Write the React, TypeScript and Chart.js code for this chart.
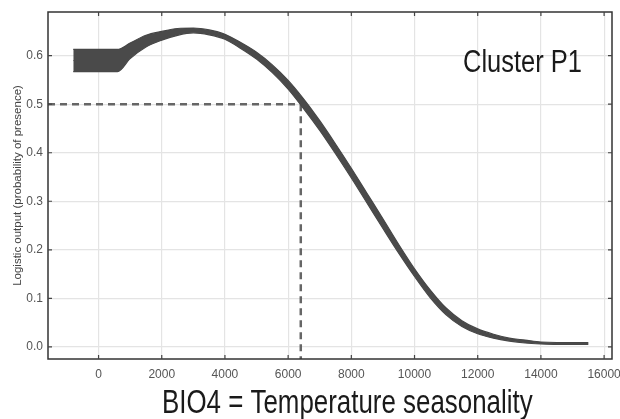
import React, { useEffect, useRef } from "react";
import { Chart, registerables } from "chart.js";

Chart.register(...registerables);

const xValues = [-800, 600, 1000, 1500, 2000, 2500, 3000, 3500, 4000, 4500, 5000, 5500, 6000, 6500, 7000, 7500, 8000, 8500, 9000, 9500, 10000, 10500, 11000, 11500, 12000, 12500, 13000, 13500, 14000, 14500, 15000, 15500];
const meanValues = [0.590, 0.590, 0.610, 0.630, 0.641, 0.649, 0.652, 0.648, 0.639, 0.621, 0.600, 0.573, 0.540, 0.500, 0.456, 0.408, 0.358, 0.306, 0.254, 0.202, 0.153, 0.109, 0.073, 0.048, 0.032, 0.022, 0.015, 0.011, 0.008, 0.007, 0.007, 0.007];
const upperValues = [0.613, 0.613, 0.626, 0.642, 0.650, 0.656, 0.657, 0.653, 0.644, 0.627, 0.607, 0.581, 0.549, 0.510, 0.466, 0.418, 0.368, 0.316, 0.264, 0.211, 0.161, 0.117, 0.080, 0.054, 0.037, 0.026, 0.018, 0.014, 0.010, 0.009, 0.009, 0.009];
const lowerValues = [0.567, 0.567, 0.594, 0.618, 0.632, 0.642, 0.647, 0.643, 0.634, 0.615, 0.593, 0.565, 0.531, 0.490, 0.446, 0.398, 0.348, 0.296, 0.244, 0.193, 0.145, 0.101, 0.066, 0.042, 0.027, 0.018, 0.012, 0.008, 0.006, 0.005, 0.005, 0.005];

const thresholdY = 0.5;
const thresholdX = 6400;

const xTicks = [0, 2000, 4000, 6000, 8000, 10000, 12000, 14000, 16000];
const yTicks = [0, 0.1, 0.2, 0.3, 0.4, 0.5, 0.6];

const X_MIN = -1600;
const X_MAX = 16250;
const Y_MIN = -0.025;
const Y_MAX = 0.69;

const yTitle = "Logistic output (probability of presence)";
const xTitle = "BIO4 = Temperature seasonality";
const clusterLabel = "Cluster P1";

const FONT = "'Liberation Sans', Arial, sans-serif";

const decorPlugin = {
  id: "decor",
  afterDraw(chart: any) {
    const { ctx, chartArea } = chart;
    const xs = chart.scales.x;
    const ys = chart.scales.y;
    ctx.save();
    ctx.strokeStyle = "#333";
    ctx.lineWidth = 1.5;
    ctx.strokeRect(chartArea.left, chartArea.top, chartArea.right - chartArea.left, chartArea.bottom - chartArea.top);
    ctx.lineWidth = 1.2;
    ctx.strokeStyle = "#444";
    const t = 4;
    xs.ticks.forEach((tk: any) => {
      const px = xs.getPixelForValue(tk.value);
      ctx.beginPath();
      ctx.moveTo(px, chartArea.bottom);
      ctx.lineTo(px, chartArea.bottom - t);
      ctx.moveTo(px, chartArea.top);
      ctx.lineTo(px, chartArea.top + t);
      ctx.stroke();
    });
    ys.ticks.forEach((tk: any) => {
      const py = ys.getPixelForValue(tk.value);
      ctx.beginPath();
      ctx.moveTo(chartArea.left, py);
      ctx.lineTo(chartArea.left + t, py);
      ctx.moveTo(chartArea.right, py);
      ctx.lineTo(chartArea.right - t, py);
      ctx.stroke();
    });
    ctx.fillStyle = "#1a1a1a";
    ctx.textAlign = "left";
    ctx.textBaseline = "alphabetic";
    ctx.font = `25.5px ${FONT}`;
    ctx.save();
    ctx.translate(463, 72);
    ctx.scale(1, 1.2);
    ctx.fillText(clusterLabel, 0, 0);
    ctx.restore();
    ctx.font = `25.9px ${FONT}`;
    ctx.save();
    ctx.translate(162, 413);
    ctx.scale(1, 1.3);
    ctx.fillText(xTitle, 0, 0);
    ctx.restore();
    ctx.restore();
  },
};

export default function App() {
  const ref = useRef<HTMLCanvasElement | null>(null);
  useEffect(() => {
    if (!ref.current) return;
    const pts = (ys: number[]) => xValues.map((x, i) => ({ x, y: ys[i] }));
    const chart = new Chart(ref.current, {
      type: "line",
      data: {
        datasets: [
          {
            label: "upper",
            data: pts(upperValues),
            borderColor: "#464646",
            borderWidth: 1.2,
            backgroundColor: "#4a4a4a",
            fill: "+1",
            pointRadius: 0,
            cubicInterpolationMode: "monotone",
          },
          {
            label: "lower",
            data: pts(lowerValues),
            borderColor: "#464646",
            borderWidth: 1.2,
            backgroundColor: "#4a4a4a",
            fill: false,
            pointRadius: 0,
            cubicInterpolationMode: "monotone",
          },
          {
            label: "mean",
            data: pts(meanValues),
            borderColor: "#727272",
            borderWidth: 1,
            fill: false,
            pointRadius: 0,
            cubicInterpolationMode: "monotone",
          },
          {
            label: "hline",
            data: [
              { x: X_MIN, y: thresholdY },
              { x: thresholdX, y: thresholdY },
            ],
            borderColor: "#666",
            borderWidth: 2.5,
            borderDash: [7, 5],
            fill: false,
            pointRadius: 0,
          },
          {
            label: "vline",
            data: [
              { x: thresholdX, y: thresholdY },
              { x: thresholdX, y: Y_MIN },
            ],
            borderColor: "#666",
            borderWidth: 2.5,
            borderDash: [7, 5],
            fill: false,
            pointRadius: 0,
          },
        ],
      },
      options: {
        animation: false,
        responsive: false,
        maintainAspectRatio: false,
        layout: { padding: { left: 11, top: 12, right: 8, bottom: 0 } },
        plugins: { legend: { display: false }, tooltip: { enabled: false } },
        scales: {
          x: {
            type: "linear",
            min: X_MIN,
            max: X_MAX,
            afterBuildTicks: (s: any) => {
              s.ticks = xTicks.map((v) => ({ value: v }));
            },
            afterFit: (s: any) => {
              s.height = 60;
              s.paddingLeft = 0;
              s.paddingRight = 0;
            },
            ticks: {
              autoSkip: false,
              maxRotation: 0,
              padding: 8,
              color: "#555",
              font: { family: FONT, size: 12 },
              callback: (v: any) => String(v),
            },
            grid: { color: "#e4e4e4", lineWidth: 1.2, drawTicks: false },
            border: { display: false },
          },
          y: {
            type: "linear",
            min: Y_MIN,
            max: Y_MAX,
            afterBuildTicks: (s: any) => {
              s.ticks = yTicks.map((v) => ({ value: v }));
            },
            afterFit: (s: any) => {
              s.width = 37;
              s.paddingTop = 0;
              s.paddingBottom = 0;
            },
            ticks: {
              padding: 5,
              color: "#555",
              font: { family: FONT, size: 12 },
              callback: (v: any) => Number(v).toFixed(1),
            },
            grid: { color: "#e4e4e4", lineWidth: 1.2, drawTicks: false },
            border: { display: false },
            title: {
              display: true,
              text: yTitle,
              color: "#444",
              font: { family: FONT, size: 11.5 },
              padding: { top: 0, bottom: 0 },
            },
          },
        },
      },
      plugins: [decorPlugin],
    } as any);
    return () => chart.destroy();
  }, []);
  return (
    <div style={{ position: "absolute", left: 0, top: 0, width: 620, height: 419, background: "#fff" }}>
      <canvas ref={ref} width={620} height={419} style={{ width: 620, height: 419, display: "block" }} />
    </div>
  );
}
